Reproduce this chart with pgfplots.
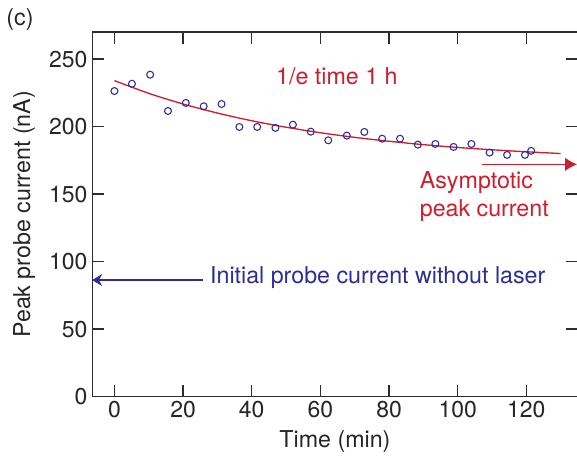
\documentclass[border=0pt]{standalone}
\usepackage{fontspec}
\setmainfont{TeX Gyre Heros}
\usepackage{pgfplots}
\pgfplotsset{compat=1.18}
\usetikzlibrary{arrows.meta}
\definecolor{fitred}{RGB}{205,30,45}
\definecolor{datblue}{RGB}{45,45,150}
\definecolor{axgray}{RGB}{45,45,45}

\begin{document}
\begin{tikzpicture}
\begin{axis}[
  scale only axis,
  width=363.75pt, height=273pt,
  xmin=-6.5, xmax=135, ymin=0, ymax=270,
  xtick={0,20,...,120}, ytick={0,50,...,250},
  tick align=inside,
  major tick length=9pt,
  axis line style={axgray, line width=0.9pt},
  every tick/.style={axgray, line width=0.9pt},
  font=\fontsize{17.4}{20}\selectfont,
  tick label style={font=\fontsize{17.2}{20}\selectfont, text=black!85},
  /pgf/number format/assume math mode=true,
  xlabel={Time (min)}, ylabel={Peak probe current (nA)},
  xlabel style={at={(axis description cs:0.5,-0.1227)}, anchor=center, text=black!85},
  ylabel style={at={(axis description cs:-0.140,0.5)}, anchor=center, text=black!85},
  clip=false,
]
% fitted decay, 1/e time 60 min
\addplot[fitred, line width=1pt, smooth] coordinates {
  (0,234) (10,224.6) (20,216.7) (30,210.0) (40,204.3) (50,199.5) (60,195.4)
  (70,192.0) (80,189.1) (90,186.6) (100,184.5) (110,182.8) (120,181.3) (130,180.0)
};
% measured peak currents
\addplot[only marks, mark=o, mark size=2.6pt, datblue, mark options={line width=0.8pt}] coordinates {
  (0,226.3) (5.1,231.7) (10.4,238.4) (15.6,211.5) (20.8,217.5) (26.0,215.0)
  (31.2,216.7) (36.4,199.7) (41.6,199.7) (46.9,199.0) (52.0,201.4) (57.2,196.2)
  (62.3,189.8) (67.7,193.3) (72.8,196.0) (78.0,191.0) (83.2,191.0) (88.4,186.6)
  (93.5,187.1) (98.8,184.9) (104.0,187.1) (109.3,180.7) (114.4,179.0) (119.6,179.0)
  (121.4,182.0)
};
\node[fitred, inner sep=0] at (axis cs:64.8,236.9) {1/e time 1 h};
\node[fitred, anchor=west, inner sep=0, align=left, font=\fontsize{17.4}{21.2}\selectfont]
  at (axis cs:88.9,148) {Asymptotic\\peak current};
\draw[fitred, line width=0.9pt, -{Latex[length=9pt,width=10pt]}]
  (axis cs:107,172) -- (axis cs:134.8,172);
\node[datblue, anchor=west, inner sep=0] at (axis cs:27.8,88) {Initial probe current without laser};
\draw[datblue, line width=0.9pt, -{Stealth[length=7.5pt,width=9pt]}]
  (axis cs:25.8,86.3) -- (axis cs:-6.5,86.3);
\node[text=black!85] at (axis description cs:-0.1485,1.0357) {(c)};
\end{axis}
\pgfresetboundingbox
\path[use as bounding box] ([shift={(-69pt,-48pt)}]current axis.south west)
  rectangle ([shift={(-0.6pt,24pt)}]current axis.north east);
\end{tikzpicture}
\end{document}
